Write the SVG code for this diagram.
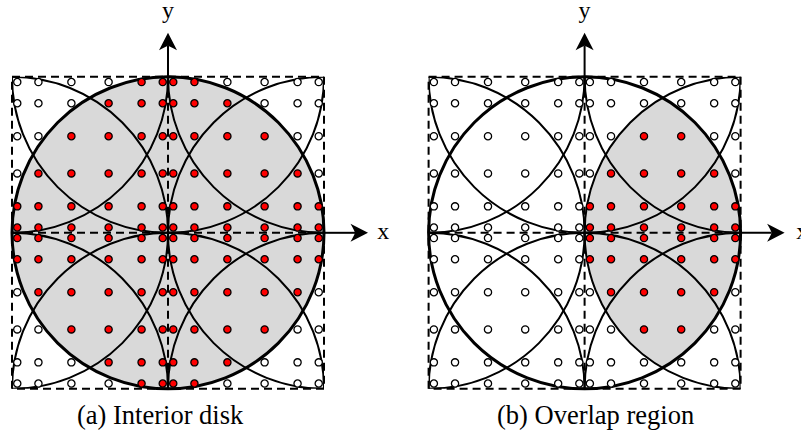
<svg xmlns="http://www.w3.org/2000/svg" xmlns:xlink="http://www.w3.org/1999/xlink" width="801" height="432" viewBox="0 0 801 432">
<style>
.sq{fill:none;stroke:#000;stroke-width:2;stroke-dasharray:8 5}
.thin{fill:none;stroke:#000;stroke-width:2}
.thick{fill:none;stroke:#000;stroke-width:3}
.ax{fill:none;stroke:#000;stroke-width:2}
.axd{fill:none;stroke:#000;stroke-width:2;stroke-dasharray:8 5}
.shade{fill:#d9d9d9;stroke:none}
.lbl{font-family:"Liberation Serif","Times New Roman",serif;font-size:24px;fill:#000}
.cap{font-family:"Liberation Serif","Times New Roman",serif;font-size:26.5px;fill:#000}
</style>
<defs>
<clipPath id="sqclip" clipPathUnits="userSpaceOnUse"><rect x="-156" y="-156" width="312" height="312"/></clipPath>
<marker id="arrow" markerUnits="userSpaceOnUse" viewBox="-5 -10 20 20" refX="0" refY="0" markerWidth="20" markerHeight="20" orient="auto"><path d="M13,0 L-4.5,-9 Q-1,-3 0,0 Q-1,3 -4.5,9 Z" fill="#000"/></marker>
<circle id="w" r="3.6" fill="#fff" stroke="#000" stroke-width="1.3"/>
<circle id="r" r="3.6" fill="#f00" stroke="#000" stroke-width="1.3"/>
<g id="frame">
<g clip-path="url(#sqclip)" class="thin">
<circle cx="-156" cy="-156" r="156"/>
<circle cx="0" cy="-156" r="156"/>
<circle cx="156" cy="-156" r="156"/>
<circle cx="-156" cy="0" r="156"/>
<circle cx="156" cy="0" r="156"/>
<circle cx="-156" cy="156" r="156"/>
<circle cx="0" cy="156" r="156"/>
<circle cx="156" cy="156" r="156"/>
</g>
<circle class="thick" cx="0" cy="0" r="156"/>
<rect class="sq" x="-156" y="-156" width="312" height="312"/>
<line class="axd" x1="-156" y1="0" x2="156" y2="0"/>
<line class="axd" x1="0" y1="-156" x2="0" y2="156"/>
<line class="ax" x1="155" y1="0" x2="187" y2="0" marker-end="url(#arrow)"/>
<line class="ax" x1="0" y1="-155" x2="0" y2="-187" marker-end="url(#arrow)"/>
</g>
</defs>

<g id="panel-a" transform="translate(168,232.8)">
<circle class="shade" cx="0" cy="0" r="156"/>
<use href="#frame"/>
<g id="dots-a">
<g transform="translate(0,-150.73)"><use href="#w" x="-150.73"/><use href="#w" x="-129.57"/><use href="#w" x="-96.61"/><use href="#w" x="-59.39"/><use href="#r" x="-26.43"/><use href="#r" x="-5.27"/><use href="#r" x="5.27"/><use href="#r" x="26.43"/><use href="#w" x="59.39"/><use href="#w" x="96.61"/><use href="#w" x="129.57"/><use href="#w" x="150.73"/></g>
<g transform="translate(0,-129.57)"><use href="#w" x="-150.73"/><use href="#w" x="-129.57"/><use href="#w" x="-96.61"/><use href="#r" x="-59.39"/><use href="#r" x="-26.43"/><use href="#r" x="-5.27"/><use href="#r" x="5.27"/><use href="#r" x="26.43"/><use href="#r" x="59.39"/><use href="#w" x="96.61"/><use href="#w" x="129.57"/><use href="#w" x="150.73"/></g>
<g transform="translate(0,-96.61)"><use href="#w" x="-150.73"/><use href="#w" x="-129.57"/><use href="#r" x="-96.61"/><use href="#r" x="-59.39"/><use href="#r" x="-26.43"/><use href="#r" x="-5.27"/><use href="#r" x="5.27"/><use href="#r" x="26.43"/><use href="#r" x="59.39"/><use href="#r" x="96.61"/><use href="#w" x="129.57"/><use href="#w" x="150.73"/></g>
<g transform="translate(0,-59.39)"><use href="#w" x="-150.73"/><use href="#r" x="-129.57"/><use href="#r" x="-96.61"/><use href="#r" x="-59.39"/><use href="#r" x="-26.43"/><use href="#r" x="-5.27"/><use href="#r" x="5.27"/><use href="#r" x="26.43"/><use href="#r" x="59.39"/><use href="#r" x="96.61"/><use href="#r" x="129.57"/><use href="#w" x="150.73"/></g>
<g transform="translate(0,-26.43)"><use href="#r" x="-150.73"/><use href="#r" x="-129.57"/><use href="#r" x="-96.61"/><use href="#r" x="-59.39"/><use href="#r" x="-26.43"/><use href="#r" x="-5.27"/><use href="#r" x="5.27"/><use href="#r" x="26.43"/><use href="#r" x="59.39"/><use href="#r" x="96.61"/><use href="#r" x="129.57"/><use href="#r" x="150.73"/></g>
<g transform="translate(0,-5.27)"><use href="#r" x="-150.73"/><use href="#r" x="-129.57"/><use href="#r" x="-96.61"/><use href="#r" x="-59.39"/><use href="#r" x="-26.43"/><use href="#r" x="-5.27"/><use href="#r" x="5.27"/><use href="#r" x="26.43"/><use href="#r" x="59.39"/><use href="#r" x="96.61"/><use href="#r" x="129.57"/><use href="#r" x="150.73"/></g>
<g transform="translate(0,5.27)"><use href="#r" x="-150.73"/><use href="#r" x="-129.57"/><use href="#r" x="-96.61"/><use href="#r" x="-59.39"/><use href="#r" x="-26.43"/><use href="#r" x="-5.27"/><use href="#r" x="5.27"/><use href="#r" x="26.43"/><use href="#r" x="59.39"/><use href="#r" x="96.61"/><use href="#r" x="129.57"/><use href="#r" x="150.73"/></g>
<g transform="translate(0,26.43)"><use href="#r" x="-150.73"/><use href="#r" x="-129.57"/><use href="#r" x="-96.61"/><use href="#r" x="-59.39"/><use href="#r" x="-26.43"/><use href="#r" x="-5.27"/><use href="#r" x="5.27"/><use href="#r" x="26.43"/><use href="#r" x="59.39"/><use href="#r" x="96.61"/><use href="#r" x="129.57"/><use href="#r" x="150.73"/></g>
<g transform="translate(0,59.39)"><use href="#w" x="-150.73"/><use href="#r" x="-129.57"/><use href="#r" x="-96.61"/><use href="#r" x="-59.39"/><use href="#r" x="-26.43"/><use href="#r" x="-5.27"/><use href="#r" x="5.27"/><use href="#r" x="26.43"/><use href="#r" x="59.39"/><use href="#r" x="96.61"/><use href="#r" x="129.57"/><use href="#w" x="150.73"/></g>
<g transform="translate(0,96.61)"><use href="#w" x="-150.73"/><use href="#w" x="-129.57"/><use href="#r" x="-96.61"/><use href="#r" x="-59.39"/><use href="#r" x="-26.43"/><use href="#r" x="-5.27"/><use href="#r" x="5.27"/><use href="#r" x="26.43"/><use href="#r" x="59.39"/><use href="#r" x="96.61"/><use href="#w" x="129.57"/><use href="#w" x="150.73"/></g>
<g transform="translate(0,129.57)"><use href="#w" x="-150.73"/><use href="#w" x="-129.57"/><use href="#w" x="-96.61"/><use href="#r" x="-59.39"/><use href="#r" x="-26.43"/><use href="#r" x="-5.27"/><use href="#r" x="5.27"/><use href="#r" x="26.43"/><use href="#r" x="59.39"/><use href="#w" x="96.61"/><use href="#w" x="129.57"/><use href="#w" x="150.73"/></g>
<g transform="translate(0,150.73)"><use href="#w" x="-150.73"/><use href="#w" x="-129.57"/><use href="#w" x="-96.61"/><use href="#w" x="-59.39"/><use href="#r" x="-26.43"/><use href="#r" x="-5.27"/><use href="#r" x="5.27"/><use href="#r" x="26.43"/><use href="#w" x="59.39"/><use href="#w" x="96.61"/><use href="#w" x="129.57"/><use href="#w" x="150.73"/></g>
</g>
</g>

<g id="panel-b" transform="translate(584.6,232.8)">
<path class="shade" d="M78,-135.1 A156,156 0 0 1 78,135.1 A156,156 0 0 1 78,-135.1 Z"/>
<use href="#frame"/>
<g id="dots-b">
<g transform="translate(0,-150.73)"><use href="#w" x="-150.73"/><use href="#w" x="-129.57"/><use href="#w" x="-96.61"/><use href="#w" x="-59.39"/><use href="#w" x="-26.43"/><use href="#w" x="-5.27"/><use href="#w" x="5.27"/><use href="#w" x="26.43"/><use href="#w" x="59.39"/><use href="#w" x="96.61"/><use href="#w" x="129.57"/><use href="#w" x="150.73"/></g>
<g transform="translate(0,-129.57)"><use href="#w" x="-150.73"/><use href="#w" x="-129.57"/><use href="#w" x="-96.61"/><use href="#w" x="-59.39"/><use href="#w" x="-26.43"/><use href="#w" x="-5.27"/><use href="#w" x="5.27"/><use href="#w" x="26.43"/><use href="#w" x="59.39"/><use href="#w" x="96.61"/><use href="#w" x="129.57"/><use href="#w" x="150.73"/></g>
<g transform="translate(0,-96.61)"><use href="#w" x="-150.73"/><use href="#w" x="-129.57"/><use href="#w" x="-96.61"/><use href="#w" x="-59.39"/><use href="#w" x="-26.43"/><use href="#w" x="-5.27"/><use href="#w" x="5.27"/><use href="#w" x="26.43"/><use href="#r" x="59.39"/><use href="#r" x="96.61"/><use href="#w" x="129.57"/><use href="#w" x="150.73"/></g>
<g transform="translate(0,-59.39)"><use href="#w" x="-150.73"/><use href="#w" x="-129.57"/><use href="#w" x="-96.61"/><use href="#w" x="-59.39"/><use href="#w" x="-26.43"/><use href="#w" x="-5.27"/><use href="#w" x="5.27"/><use href="#r" x="26.43"/><use href="#r" x="59.39"/><use href="#r" x="96.61"/><use href="#r" x="129.57"/><use href="#w" x="150.73"/></g>
<g transform="translate(0,-26.43)"><use href="#w" x="-150.73"/><use href="#w" x="-129.57"/><use href="#w" x="-96.61"/><use href="#w" x="-59.39"/><use href="#w" x="-26.43"/><use href="#w" x="-5.27"/><use href="#r" x="5.27"/><use href="#r" x="26.43"/><use href="#r" x="59.39"/><use href="#r" x="96.61"/><use href="#r" x="129.57"/><use href="#r" x="150.73"/></g>
<g transform="translate(0,-5.27)"><use href="#w" x="-150.73"/><use href="#w" x="-129.57"/><use href="#w" x="-96.61"/><use href="#w" x="-59.39"/><use href="#w" x="-26.43"/><use href="#w" x="-5.27"/><use href="#r" x="5.27"/><use href="#r" x="26.43"/><use href="#r" x="59.39"/><use href="#r" x="96.61"/><use href="#r" x="129.57"/><use href="#r" x="150.73"/></g>
<g transform="translate(0,5.27)"><use href="#w" x="-150.73"/><use href="#w" x="-129.57"/><use href="#w" x="-96.61"/><use href="#w" x="-59.39"/><use href="#w" x="-26.43"/><use href="#w" x="-5.27"/><use href="#r" x="5.27"/><use href="#r" x="26.43"/><use href="#r" x="59.39"/><use href="#r" x="96.61"/><use href="#r" x="129.57"/><use href="#r" x="150.73"/></g>
<g transform="translate(0,26.43)"><use href="#w" x="-150.73"/><use href="#w" x="-129.57"/><use href="#w" x="-96.61"/><use href="#w" x="-59.39"/><use href="#w" x="-26.43"/><use href="#w" x="-5.27"/><use href="#r" x="5.27"/><use href="#r" x="26.43"/><use href="#r" x="59.39"/><use href="#r" x="96.61"/><use href="#r" x="129.57"/><use href="#r" x="150.73"/></g>
<g transform="translate(0,59.39)"><use href="#w" x="-150.73"/><use href="#w" x="-129.57"/><use href="#w" x="-96.61"/><use href="#w" x="-59.39"/><use href="#w" x="-26.43"/><use href="#w" x="-5.27"/><use href="#w" x="5.27"/><use href="#r" x="26.43"/><use href="#r" x="59.39"/><use href="#r" x="96.61"/><use href="#r" x="129.57"/><use href="#w" x="150.73"/></g>
<g transform="translate(0,96.61)"><use href="#w" x="-150.73"/><use href="#w" x="-129.57"/><use href="#w" x="-96.61"/><use href="#w" x="-59.39"/><use href="#w" x="-26.43"/><use href="#w" x="-5.27"/><use href="#w" x="5.27"/><use href="#w" x="26.43"/><use href="#r" x="59.39"/><use href="#r" x="96.61"/><use href="#w" x="129.57"/><use href="#w" x="150.73"/></g>
<g transform="translate(0,129.57)"><use href="#w" x="-150.73"/><use href="#w" x="-129.57"/><use href="#w" x="-96.61"/><use href="#w" x="-59.39"/><use href="#w" x="-26.43"/><use href="#w" x="-5.27"/><use href="#w" x="5.27"/><use href="#w" x="26.43"/><use href="#w" x="59.39"/><use href="#w" x="96.61"/><use href="#w" x="129.57"/><use href="#w" x="150.73"/></g>
<g transform="translate(0,150.73)"><use href="#w" x="-150.73"/><use href="#w" x="-129.57"/><use href="#w" x="-96.61"/><use href="#w" x="-59.39"/><use href="#w" x="-26.43"/><use href="#w" x="-5.27"/><use href="#w" x="5.27"/><use href="#w" x="26.43"/><use href="#w" x="59.39"/><use href="#w" x="96.61"/><use href="#w" x="129.57"/><use href="#w" x="150.73"/></g>
</g>
</g>

<g id="labels">
<text class="lbl" x="168" y="18" text-anchor="middle">y</text>
<text class="lbl" x="383.3" y="239.3" text-anchor="middle">x</text>
<text class="lbl" x="584.6" y="18" text-anchor="middle">y</text>
<text class="lbl" x="802.3" y="239.3" text-anchor="middle">x</text>
<text class="cap" x="77" y="423.5">(a) Interior disk</text>
<text class="cap" x="497" y="423.5">(b) Overlap region</text>
</g>
</svg>
